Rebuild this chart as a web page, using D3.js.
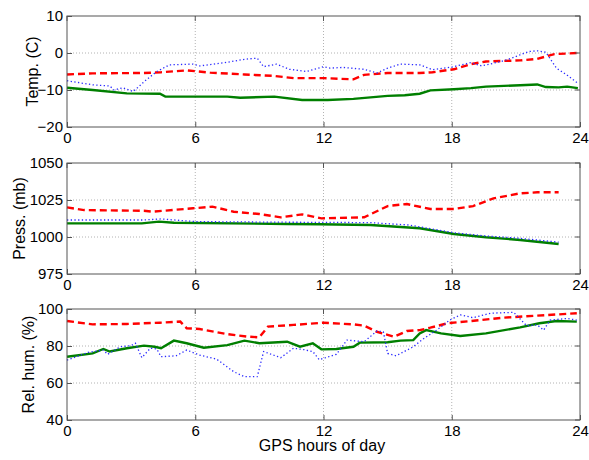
<!DOCTYPE html>
<html>
<head>
<meta charset="utf-8">
<title>GPS met</title>
<script src="https://d3js.org/d3.v7.min.js"></script>
<style>
  body { margin: 0; background: #fff; }
  text { font-family: Arial, 'Liberation Sans', sans-serif; }
</style>
</head>
<body>
<svg id="chart" width="589" height="460"></svg>
<script>
// hours of day, ticks
const xTicks = [0, 6, 12, 18, 24];

// temperature (C): [hour, value]
const tempRed = [[0,-5.8],[1.2,-5.5],[3.6,-5.4],[4.4,-5.2],[5.6,-4.7],[6.7,-5.3],[8.3,-5.8],[9.7,-6.2],[10.6,-6.8],[12,-6.8],[13.4,-7.1],[13.9,-5.9],[15,-5.4],[16.5,-5.4],[17.1,-5.2],[18.1,-4.4],[18.9,-3.0],[19.6,-2.3],[21.2,-2.0],[22,-1.6],[22.8,-0.3],[23.9,0]];
const tempBlue = [[0,-7.5],[1.2,-8.6],[2.0,-8.9],[2.2,-10],[2.6,-9.4],[3.1,-10.4],[3.7,-7.3],[4.2,-5.0],[4.8,-3.2],[5.9,-3.0],[6.2,-3.5],[7.5,-2.5],[8.3,-1.7],[8.9,-1.4],[9.2,-3.7],[9.8,-3.0],[10.4,-4.4],[11.2,-5.0],[12.0,-3.7],[12.3,-4.1],[12.9,-3.9],[13.9,-4.4],[14.5,-5.4],[15.0,-4.1],[15.6,-3.0],[16.5,-3.2],[17.1,-4.5],[18.0,-3.8],[18.9,-2.6],[19.4,-3.5],[20.3,-2.3],[20.8,-1.4],[21.6,0.4],[22.0,0.6],[22.4,0.2],[22.9,-4.1],[23.4,-6.0],[23.9,-8.2]];
const tempGreen = [[0,-9.4],[1.2,-10],[2.8,-10.9],[4.35,-11],[4.6,-11.8],[5.9,-11.8],[7.5,-11.8],[8.1,-12.1],[9.7,-11.8],[11,-12.7],[12.2,-12.7],[13.4,-12.4],[15,-11.6],[15.8,-11.4],[16.5,-11],[17,-10.1],[18.1,-9.8],[18.9,-9.5],[19.6,-9.1],[21.2,-8.7],[22,-8.5],[22.4,-9.2],[23.0,-9.3],[23.4,-9.1],[23.9,-9.5]];

// pressure (mb)
const pressRed = [[0,1020],[0.8,1018.2],[3.6,1017.7],[4.0,1017.1],[5.9,1019.4],[6.8,1020.5],[7.8,1017.1],[9.0,1015.5],[10.0,1013.3],[11,1015.3],[11.9,1012.6],[13.9,1013.3],[15.0,1020.9],[15.9,1022.3],[17.0,1018.9],[18.1,1018.9],[19.0,1020.9],[19.95,1026.1],[21.2,1029.5],[22.0,1030.2],[23.0,1030.2]];
const pressBlue = [[0,1011.5],[3.6,1011.5],[4.4,1012.2],[6,1010.4],[10,1010],[11.8,1009.9],[14.2,1009.7],[16.0,1008.1],[18.1,1002.9],[19.6,1000.7],[21.2,999.1],[22.8,996.8],[23.0,996.5]];
const pressGreen = [[0,1009.2],[3.5,1009.2],[4.3,1010.4],[5.0,1009.6],[10.3,1008.8],[11.8,1008.6],[14.2,1008.1],[16.5,1005.9],[18.1,1002.0],[19.6,999.8],[21.2,998.0],[23.0,995.3]];

// relative humidity (%)
const humRed = [[0,93.5],[1.2,91.7],[2.8,91.9],[4.35,92.6],[5.3,93.2],[5.6,89.6],[6.2,89.2],[7.5,86.4],[8.4,85.1],[9.0,84.7],[9.4,90.5],[10.6,91.4],[12.0,92.6],[13.4,91.7],[13.9,91.0],[14.5,87.7],[15.3,85.0],[15.9,88.1],[16.5,88.6],[17.0,89.9],[17.8,92.3],[18.9,93.5],[20.4,95.3],[22.0,96.4],[23.85,97.7]];
const humBlue = [[0,72.4],[1.0,76.6],[1.7,77.8],[1.9,75.5],[2.5,79.6],[3.0,80.2],[3.2,81.5],[3.5,73.7],[3.9,78.8],[4.2,78.4],[4.4,74.2],[5.1,74.7],[5.6,77.8],[6.2,75.1],[7.0,72.9],[7.8,66.1],[8.3,63.4],[8.9,63.4],[9.2,77],[10.0,73.7],[10.6,78.8],[11.1,78],[11.5,77],[11.8,72.6],[12.6,75.5],[13.1,83.2],[13.9,82.3],[14.5,88.1],[14.8,87.7],[15.0,76.0],[15.4,74.7],[16.2,79.6],[16.7,84.1],[17.3,88.6],[17.9,94],[18.4,96.8],[19.0,95.3],[19.8,97.7],[20.9,98.2],[21.5,91],[22.0,91.4],[22.3,88.6],[22.6,94],[23.4,94.9],[23.85,94]];
const humGreen = [[0,74.2],[1.2,76.0],[1.7,78.4],[2.0,77],[2.8,78.8],[3.6,80.2],[4.1,79.6],[4.4,78.8],[5.0,82.9],[5.6,81.5],[6.4,79.1],[7.5,80.5],[8.3,82.9],[9.0,81.5],[10.3,82.3],[10.9,79.6],[11.5,81.5],[11.9,78.2],[12.6,78.4],[13.4,79.6],[13.7,81.8],[15.0,82],[15.6,82.9],[16.2,83.2],[16.5,86.8],[16.8,88.6],[17.5,86.8],[18.4,85.4],[19.6,86.8],[21.2,90.1],[22.1,92.3],[22.9,93.5],[23.85,93.2]];

const panels = [
  { label: "Temp. (C)", lx: 32, domain: [-20, 10], ticks: [-20, -10, 0, 10], top: 16, series: [tempGreen, tempRed, tempBlue] },
  { label: "Press. (mb)", lx: 19, domain: [975, 1050], ticks: [975, 1000, 1025, 1050], top: 163, series: [pressGreen, pressRed, pressBlue] },
  { label: "Rel. hum. (%)", lx: 28, domain: [40, 100], ticks: [40, 60, 80, 100], top: 309, series: [humGreen, humRed, humBlue] }
];

const styles = [
  { stroke: "#007f00", width: 2.4, dash: null },
  { stroke: "#ff0000", width: 2.4, dash: "7,4" },
  { stroke: "#2a2aff", width: 1.3, dash: "1.3,2.4" }
];

const left = 67, right = 580, ph = 111;
const svg = d3.select("#chart");

const x = d3.scaleLinear().domain([0, 24]).range([left, right]);

panels.forEach(p => {
  const y = d3.scaleLinear().domain(p.domain).range([p.top + ph, p.top]);
  const g = svg.append("g");

  // grid
  g.selectAll(".vg").data(xTicks.slice(1, -1)).enter().append("line")
    .attr("x1", d => x(d)).attr("x2", d => x(d))
    .attr("y1", p.top).attr("y2", p.top + ph)
    .attr("stroke", "#a0a0a0").attr("stroke-width", 0.8).attr("stroke-dasharray", "1,2");
  g.selectAll(".hg").data(p.ticks.slice(1, -1)).enter().append("line")
    .attr("x1", left).attr("x2", right)
    .attr("y1", d => y(d)).attr("y2", d => y(d))
    .attr("stroke", "#a0a0a0").attr("stroke-width", 0.8).attr("stroke-dasharray", "1,2");

  const line = d3.line().x(d => x(d[0])).y(d => y(d[1]));
  p.series.forEach((s, i) => {
    const st = styles[i];
    g.append("path").datum(s)
      .attr("d", line)
      .attr("fill", "none")
      .attr("stroke", st.stroke)
      .attr("stroke-width", st.width)
      .attr("stroke-dasharray", st.dash);
  });

  // axes (inward ticks, MATLAB style)
  const xa = d3.axisBottom(x).tickValues(xTicks).tickSize(-5).tickPadding(5).tickFormat(d3.format("d"));
  const ya = d3.axisLeft(y).tickValues(p.ticks).tickSize(-5).tickPadding(4).tickFormat(d3.format("d"));
  const gx = g.append("g").attr("transform", `translate(0,${p.top + ph})`).call(xa);
  const gy = g.append("g").attr("transform", `translate(${left},0)`).call(ya);
  [gx, gy].forEach(a => {
    a.select(".domain").remove();
    a.selectAll("line").attr("stroke", "#555");
    a.selectAll("text").attr("font-size", 15).attr("fill", "#000");
  });
  // top/right ticks
  g.selectAll(".tt").data(xTicks).enter().append("line")
    .attr("x1", d => x(d)).attr("x2", d => x(d))
    .attr("y1", p.top).attr("y2", p.top + 5).attr("stroke", "#555");
  g.selectAll(".rt").data(p.ticks).enter().append("line")
    .attr("x1", right - 5).attr("x2", right)
    .attr("y1", d => y(d)).attr("y2", d => y(d)).attr("stroke", "#555");

  g.append("rect")
    .attr("x", left).attr("y", p.top).attr("width", right - left).attr("height", ph)
    .attr("fill", "none").attr("stroke", "#555").attr("stroke-width", 1);

  svg.append("text")
    .attr("transform", `translate(${p.lx},${p.top + ph / 2}) rotate(-90)`)
    .attr("text-anchor", "middle")
    .attr("dominant-baseline", "central")
    .attr("font-size", 16)
    .text(p.label);
});

svg.append("text")
  .attr("x", 322).attr("y", 451)
  .attr("text-anchor", "middle")
  .attr("font-size", 16)
  .text("GPS hours of day");
</script>
</body>
</html>
